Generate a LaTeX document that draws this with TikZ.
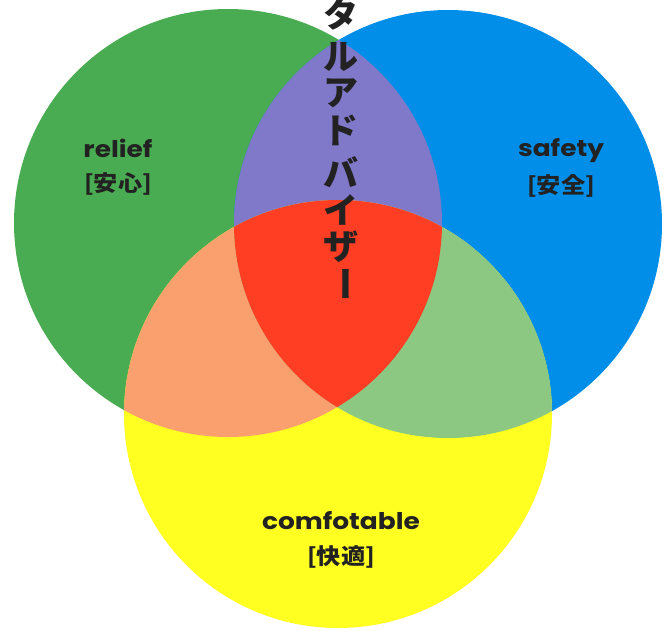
\documentclass[tikz,border=0pt]{standalone}
\usepackage{fontspec}
\newfontfamily\jpfont{Noto Sans CJK JP}
\newfontfamily\latfont{Poppins}
\definecolor{cgreen}{RGB}{74,172,82}
\definecolor{cblue}{RGB}{0,142,232}
\definecolor{cyellow}{RGB}{255,255,34}
\definecolor{cpurple}{RGB}{128,120,200}
\definecolor{cred}{RGB}{255,62,36}
\definecolor{corange}{RGB}{250,160,110}
\definecolor{clgreen}{RGB}{140,200,130}
\definecolor{ctext}{RGB}{34,34,34}
\tikzset{
  enlabel/.style={text=ctext, font=\latfont\bfseries\fontsize{23}{23}\selectfont, inner sep=0pt, anchor=center, xscale=1.15},
  jplabel/.style={text=ctext, font=\jpfont\bfseries\fontsize{22}{22}\selectfont, inner sep=0pt, anchor=center, xscale=1.1},
  vchar/.style={text=ctext, font=\jpfont\bfseries\fontsize{35}{35}\selectfont, inner sep=0pt, anchor=center}
}
\begin{document}
\begin{tikzpicture}[x=1pt,y=-1pt]
\useasboundingbox (0,0) rectangle (672,630);
\def\R{214}
\coordinate (G) at (228,223);
\coordinate (B) at (448,224);
\coordinate (Y) at (338,414);
% base circles
\fill[cgreen] (G) circle (\R);
\fill[cblue] (B) circle (\R);
\fill[cyellow] (Y) circle (\R);
% pairwise overlaps
\begin{scope}
  \clip (G) circle (\R);
  \fill[cpurple] (B) circle (\R);
  \fill[corange] (Y) circle (\R);
\end{scope}
\begin{scope}
  \clip (B) circle (\R);
  \fill[clgreen] (Y) circle (\R);
\end{scope}
% triple overlap
\begin{scope}
  \clip (G) circle (\R);
  \clip (B) circle (\R);
  \fill[cred] (Y) circle (\R);
\end{scope}
% labels
\node[enlabel] (relief) at (118,148) {relief};
\node[jplabel] (reliefjp) at (118,184) {[安心]};
\node[enlabel] (safety) at (561,151) {safety};
\node[jplabel] (safetyjp) at (561,186) {[安全]};
\node[enlabel] (comf) at (341,521) {comfotable};
\node[jplabel] (comfjp) at (341,557) {[快適]};
% vertical text
\node[vchar] (v1) at (341,14) {タ};
\node[vchar] (v2) at (341,57) {ル};
\node[vchar] (v3) at (341,93) {ア};
\node[vchar] (v4) at (341,130) {ド};
\node[vchar] (v5) at (341,172) {バ};
\node[vchar] (v6) at (341,210) {イ};
\node[vchar] (v7) at (341,247) {ザ};
\node[vchar, rotate=-90] (v8) at (341,284) {ー};
\end{tikzpicture}
\end{document}
